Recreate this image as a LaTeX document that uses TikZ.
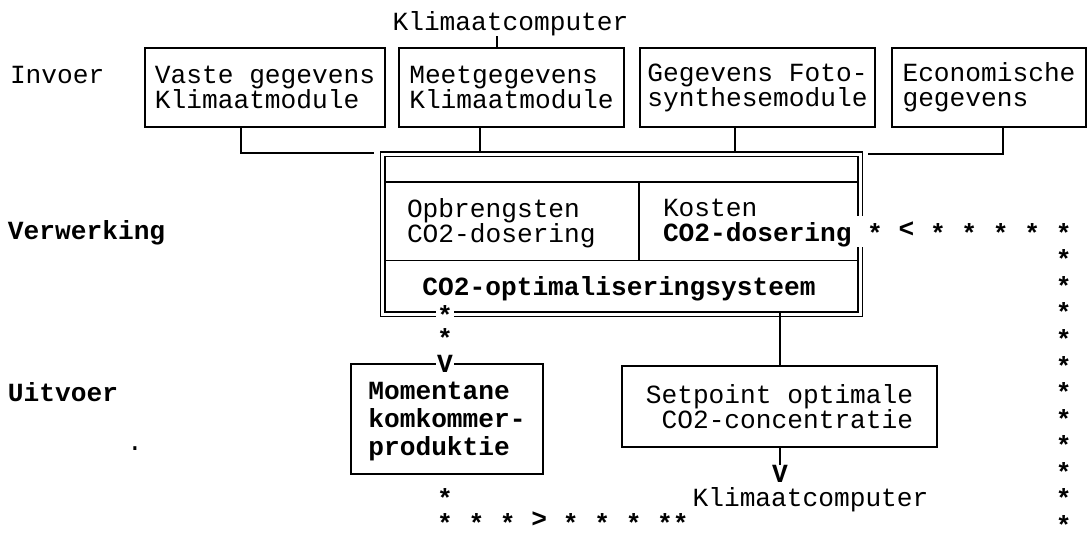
\documentclass[tikz,border=0pt]{standalone}
\usepackage{fontspec}
\newfontfamily\tw{Liberation Mono}
\newcommand\twtext{\tw\fontsize{26.2pt}{25pt}\selectfont}
\tikzset{
  box/.style={draw,line width=1.8pt,align=left},
  sysbox/.style={draw,line width=1.5pt,double,double distance=3pt},
  link/.style={line width=1.6pt},
  stars/.style={font=\twtext\bfseries,text height=21pt,text depth=-10.5pt},
  gap/.style={fill=white,inner sep=1pt}
}
\tikzstyle{every node}=[font=\twtext,inner sep=0pt,outer sep=0pt]

\begin{document}
\begin{tikzpicture}[x=1pt,y=-1pt]
    \useasboundingbox (0,0) rectangle (1089,534);
    % row labels
    \node[anchor=west] (invoer) at (10,75) {Invoer};
    \node[anchor=west,font=\twtext\bfseries] (verw) at (8,233) {Verwerking};
    \node[anchor=west,font=\twtext\bfseries] (uitv) at (8,392) {Uitvoer};
    \node (dot) at (135,449) {.};
    % input boxes
    \node[box,minimum width=240pt,minimum height=79pt] (vaste) at (265,87.5) {Vaste gegevens\\Klimaatmodule};
    \node[box,minimum width=225pt,minimum height=79pt] (meet) at (511.5,87.5) {Meetgegevens\\Klimaatmodule};
    \node[box,minimum width=235pt,minimum height=79pt] (foto) at (757.5,87.5) {Gegevens Foto-\\synthesemodule};
    \node[box,minimum width=194pt,minimum height=79pt] (econ) at (989,87.5) {Economische\\gegevens};
    \node (klimtop) at (510.5,24) {Klimaatcomputer};
    \coordinate (kt) at (497,0);
    \draw[link] (kt |- klimtop.south) -- (kt |- meet.north);
    % the system
    \node[sysbox,minimum width=477.5pt,minimum height=160pt] (sys) at (621.25,234.5) {};
    \draw[link] (384,182) -- (858,182);
    \draw[link] (384,260.5) -- (858,260.5);
    \draw[link] (639,182) -- (639,260.5);
    \node[anchor=west,align=left] (opbr) at (407,223) {Opbrengsten\\CO2-dosering};
    \node[anchor=west,align=left] (kost) at (663,223) {Kosten\\\textbf{CO2-dosering}};
    \node[font=\twtext\bfseries] (optim) at (619,289) {CO2-optimaliseringsysteem};
    % inputs into the system
    \coordinate (j1) at (241,153);
    \coordinate (j1e) at (374,153);
    \draw[link] (j1 |- vaste.south) -- (j1) -- (j1e);
    \coordinate (j2) at (480,0);
    \draw[link,shorten >=2.2pt] (j2 |- meet.south) -- (j2 |- sys.north);
    \coordinate (j3) at (735,0);
    \draw[link,shorten >=2.2pt] (j3 |- foto.south) -- (j3 |- sys.north);
    \coordinate (j4) at (1003,154);
    \coordinate (j4e) at (868,154);
    \draw[link] (j4 |- econ.south) -- (j4) -- (j4e);
    % output
    \node[box,align=left,minimum width=192pt,minimum height=110pt,font=\tw\fontsize{26.2pt}{28pt}\selectfont\bfseries] (mom) at (447,419) {\rule{0pt}{22pt}Momentane\\komkommer-\\produktie};
    \node[box,minimum width=315pt,minimum height=81pt] (setp) at (779.5,406.5) {Setpoint optimale\\~CO2-concentratie};
    \coordinate (j5) at (780,0);
    \draw[link,shorten <=-2.2pt] (j5 |- sys.south) -- (j5 |- setp.north);
    \node[font=\twtext\bfseries] (vout) at (780,474) {V};
    \draw[link] (setp.south -| j5) -- (vout.north);
    \node (klimbot) at (810.5,500) {Klimaatcomputer};
    % star chains
    \node[stars,gap] (s1) at (445,314.5) {*};
    \node[stars] (s2) at (445,337) {*};
    \node[font=\twtext\bfseries,gap] (vin) at (445,364) {V};
    \node[stars] (s3) at (445,497) {*};
    \node[stars,anchor=west] (srow) at (437.1,522) {* * * \raisebox{0.2em}{>} * * * **};
    \node[stars,gap,inner xsep=0pt,inner ysep=5pt,anchor=west] (fb) at (851.4,232) {~* \raisebox{0.2em}{<} * * * * *};
    \foreach \i in {1,...,11}
        \node[stars] (col\i) at (1063.6,232+26.5*\i) {*};
\end{tikzpicture}
\end{document}
